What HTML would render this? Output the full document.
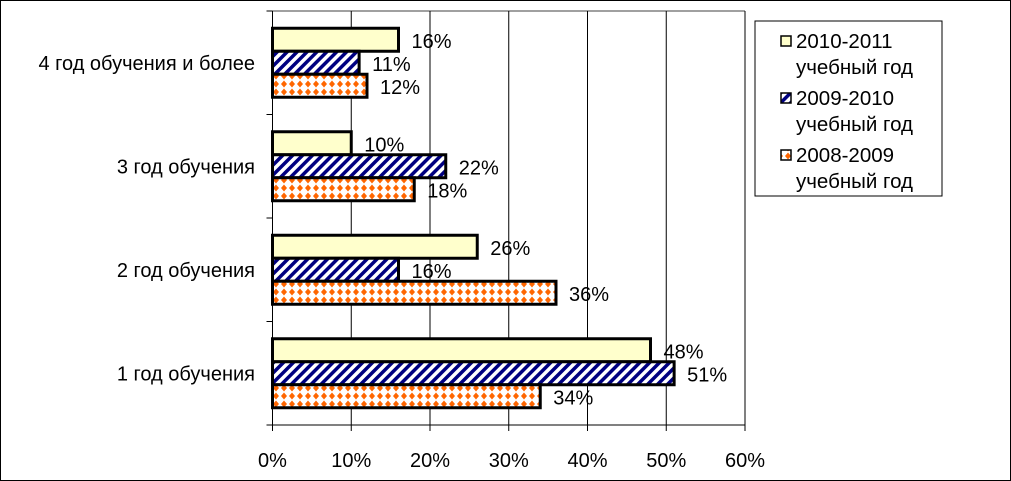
<!DOCTYPE html>
<html><head><meta charset="utf-8"><style>
body{margin:0;background:#fff}
svg{display:block;font-family:"Liberation Sans",Arial,sans-serif}
</style></head><body>
<svg id="chart" width="1011" height="481" viewBox="0 0 1011 481">
<defs>
<pattern id="hatch" width="7" height="7" patternUnits="userSpaceOnUse" patternTransform="rotate(45)">
<rect width="7" height="7" fill="#fff"/><rect width="3.5" height="7" fill="#000080"/>
</pattern>
<pattern id="dots" width="8" height="8" patternUnits="userSpaceOnUse">
<rect width="8" height="8" fill="#fff"/><path d="M4 0.5L7 4L4 7.5L1 4Z" fill="#ff6600"/>
</pattern>
</defs>
<rect x="0.5" y="0.5" width="1010" height="480" fill="#fff" stroke="#000"/>
<g id="plot"></g>
<g>
<rect x="755" y="21" width="187" height="175" fill="#fff" stroke="#000"/>
<rect x="781" y="36" width="10" height="10" fill="#ffffcc" stroke="#000" stroke-width="1.5"/>
<text x="796" y="48" font-size="20.5">2010-2011</text>
<text x="796" y="74" font-size="20.5">учебный год</text>
<rect x="781" y="93" width="10" height="10" fill="url(#hatch)" stroke="#000" stroke-width="1.5"/>
<text x="796" y="105" font-size="20.5">2009-2010</text>
<text x="796" y="131" font-size="20.5">учебный год</text>
<rect x="781" y="150" width="10" height="10" fill="url(#dots)" stroke="#000" stroke-width="1.5"/>
<text x="796" y="162" font-size="20.5">2008-2009</text>
<text x="796" y="188" font-size="20.5">учебный год</text>
</g>
</svg>
<script>
const categories=["4 год обучения и более","3 год обучения","2 год обучения","1 год обучения"];
const s2010=[16,10,26,48];
const s2009=[11,22,16,51];
const s2008=[12,18,36,34];
const xTicks=[0,10,20,30,40,50,60];
const NS="http://www.w3.org/2000/svg";
const g=document.getElementById('plot');
const X0=272.5,X1=745,Y0=11,Y1=425;
const x=v=>X0+(v/60)*(X1-X0);
const gh=(Y1-Y0)/categories.length;
function el(t,a,p){const e=document.createElementNS(NS,t);for(const k in a)e.setAttribute(k,a[k]);(p||g).appendChild(e);return e;}
el('line',{x1:X0,y1:Y0,x2:X1,y2:Y0,stroke:'#808080','stroke-width':1.5});
xTicks.forEach(t=>{
 if(t>0){const l=el('line',{x1:x(t),y1:Y0,x2:x(t),y2:Y1,stroke:'#000'});
 
 }
 el('line',{x1:x(t),y1:Y1,x2:x(t),y2:Y1+6,stroke:'#000'});
 const tx=el('text',{x:x(t),y:467,'font-size':20,'text-anchor':'middle'});
 tx.textContent=t+'%';
 
 
});
for(let i=0;i<=categories.length;i++)el('line',{x1:X0-6,y1:Y0+i*gh,x2:X0,y2:Y0+i*gh,stroke:'#000'});
const series=[{d:s2010,f:'#ffffcc',n:'2010'},{d:s2009,f:'url(#hatch)',n:'2009'},{d:s2008,f:'url(#dots)',n:'2008'}];
const bh=23,off=(gh-3*bh)/2;
categories.forEach((c,i)=>{
 const gy=Y0+i*gh;
 const lab=el('text',{x:255,y:gy+gh/2+7,'font-size':20,'text-anchor':'end'});
 lab.textContent=c;
 
 
 series.forEach((s,j)=>{
  const y=gy+off+j*bh;
  const r=el('rect',{x:X0,y:y,width:x(s.d[i])-X0,height:bh,fill:s.f,stroke:'#000','stroke-width':3});
  
  
  const t=el('text',{x:x(s.d[i])+13,y:y+bh/2+8,'font-size':20});
  t.textContent=s.d[i]+'%';
  
  
 });
});
el('line',{x1:X0,y1:Y0,x2:X0,y2:Y1,stroke:'#000'});
el('line',{x1:X0,y1:Y1,x2:X1,y2:Y1,stroke:'#000'});
</script>
</body></html>
